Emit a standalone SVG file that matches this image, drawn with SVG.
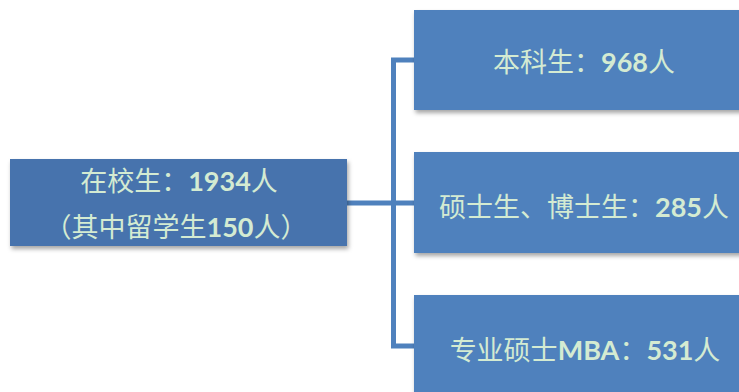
<svg xmlns="http://www.w3.org/2000/svg" width="739" height="392" viewBox="0 0 739 392">
<defs>
<filter id="sh" x="-10%" y="-10%" width="130%" height="140%">
<feDropShadow dx="1.5" dy="3" stdDeviation="2" flood-color="#000" flood-opacity="0.35"/>
</filter>
<style>
.box{fill:#4f81bd;filter:url(#sh)}
.boxl{fill:#4773ad;filter:url(#sh)}
.t{font-family:"Noto Sans CJK SC","Noto Sans",sans-serif;font-size:27px;fill:#d4ebd2;text-anchor:middle}
.n{font-family:Lato,"Noto Sans",sans-serif;font-weight:bold}
.c{fill:none;stroke:#4f81bd;stroke-width:5}
</style>
</defs>
<g id="connectors">
<path class="c" d="M347,203 H416"/>
<path class="c" d="M416,60 H393.5 V346 H416"/>
</g>
<g id="node-total">
<rect class="boxl" x="10" y="159" width="337" height="87"/>
<text class="t" x="179" y="191">在校生：<tspan class="n">1934</tspan>人</text>
<text class="t" x="176" y="237">（其中留学生<tspan class="n">150</tspan>人）</text>
</g>
<g id="node-undergrad">
<rect class="box" x="414" y="10" width="345" height="100"/>
<text class="t" x="584" y="72">本科生：<tspan class="n">968</tspan>人</text>
</g>
<g id="node-grad">
<rect class="box" x="414" y="152" width="345" height="101"/>
<text class="t" x="584" y="217">硕士生、博士生：<tspan class="n">285</tspan>人</text>
</g>
<g id="node-mba">
<rect class="box" x="414" y="295" width="345" height="110"/>
<text class="t" x="585" y="360">专业硕士<tspan class="n">MBA</tspan>：<tspan class="n">531</tspan>人</text>
</g>
</svg>
